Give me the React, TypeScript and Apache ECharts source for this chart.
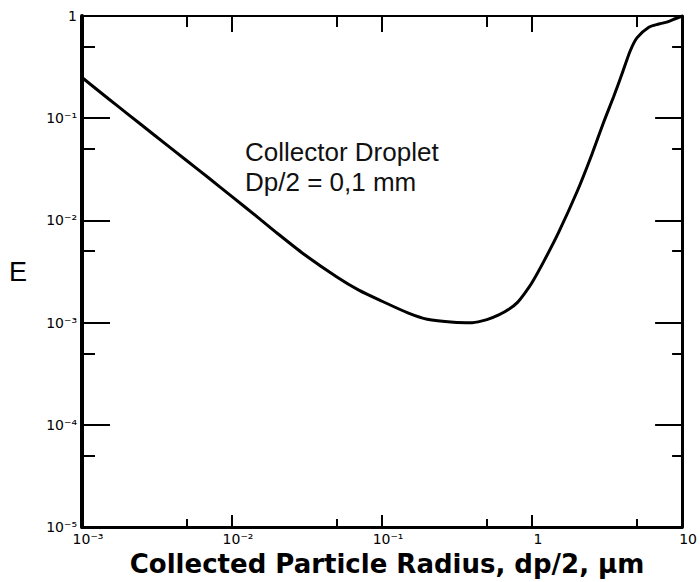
import React, { useEffect, useRef } from "react";
import * as echarts from "echarts";

// Collected particle radius dp/2 (µm)
const radius = [
  0.001, 0.0015, 0.002, 0.003, 0.005, 0.007, 0.01, 0.015, 0.02, 0.03, 0.05, 0.07,
  0.1, 0.15, 0.2, 0.3, 0.4, 0.5, 0.6, 0.7, 0.8, 0.9, 1.0, 1.2, 1.5, 2, 2.5, 3,
  3.5, 4, 4.5, 5, 6, 7, 8, 9, 10,
];
// Collection efficiency E
const efficiency = [
  0.25, 0.155, 0.111, 0.0693, 0.0384, 0.026, 0.0171, 0.0106, 0.0075, 0.0047,
  0.0028, 0.00208, 0.00162, 0.00124, 0.00108, 0.00101, 0.001, 0.00107, 0.00119,
  0.00135, 0.00158, 0.00197, 0.00247, 0.0040, 0.0076, 0.0193, 0.044, 0.0914,
  0.163, 0.278, 0.452, 0.61, 0.776, 0.834, 0.877, 0.94, 1.0,
];

const xMajor = [0.001, 0.01, 0.1, 1, 10];
const xMinor = [0.005, 0.05, 0.5, 5];
const xTickLabels = ["10⁻³", "10⁻²", "10⁻¹", "1", "10"];
const yMajor = [1e-5, 1e-4, 1e-3, 1e-2, 1e-1, 1];
const yMinor = [5e-5, 5e-4, 5e-3, 5e-2, 5e-1];
const yTickLabels = ["10⁻⁵", "10⁻⁴", "10⁻³", "10⁻²", "10⁻¹", "1"];

const xTitle = "Collected Particle Radius, dp/2, µm";
const yTitle = "E";
const noteLines = ["Collector Droplet", "Dp/2 = 0,1 mm"];

const FONT = "'Liberation Sans', Arial, sans-serif";
const TICKFONT = "'DejaVu Sans', sans-serif";

function xAxisDef(position: string, ticks: number[], len: number, lineW: number, labels: boolean, extra: any = {}) {
  return {
    type: "log",
    logBase: 10,
    min: 0.001,
    max: 10,
    position,
    axisLine: { show: lineW > 0, onZero: false, lineStyle: { color: "#000", width: lineW } },
    axisTick: { show: true, inside: true, length: len, customValues: ticks, lineStyle: { color: "#000", width: 2 } },
    axisLabel: labels
      ? {
          show: true,
          customValues: ticks,
          margin: 5,
          color: "#000",
          fontFamily: TICKFONT,
          fontSize: 14,
          padding: [0, 0, 0, 12],
          formatter: (v: number) => xTickLabels[Math.round(Math.log10(v)) + 3],
        }
      : { show: false },
    splitLine: { show: false },
    minorTick: { show: false },
    ...extra,
  };
}

function yAxisDef(position: string, ticks: number[], len: number, lineW: number, labels: boolean, extra: any = {}) {
  return {
    type: "log",
    logBase: 10,
    min: 1e-5,
    max: 1,
    position,
    axisLine: { show: lineW > 0, onZero: false, lineStyle: { color: "#000", width: lineW } },
    axisTick: { show: true, inside: true, length: len, customValues: ticks, lineStyle: { color: "#000", width: 2 } },
    axisLabel: labels
      ? {
          show: true,
          customValues: ticks,
          margin: 5,
          color: "#000",
          fontFamily: TICKFONT,
          fontSize: 14,
          formatter: (v: number) => yTickLabels[Math.round(Math.log10(v)) + 5],
        }
      : { show: false },
    splitLine: { show: false },
    minorTick: { show: false },
    ...extra,
  };
}

export default function App() {
  const ref = useRef<HTMLDivElement>(null);
  useEffect(() => {
    document.body.style.margin = "0";
    if (!ref.current) return;
    const chart = echarts.init(ref.current, undefined, { renderer: "svg" });
    chart.setOption({
      animation: false,
      backgroundColor: "#fff",
      grid: { left: 82, right: 13, top: 16, bottom: 54, containLabel: false },
      xAxis: [
        xAxisDef("bottom", xMajor, 12, 3, true, {
          name: xTitle,
          nameLocation: "middle",
          nameGap: 17,
          nameTextStyle: { color: "#000", fontFamily: "'DejaVu Sans', sans-serif", fontSize: 26, fontWeight: "bold", padding: [0, 0, 0, 10] },
        }),
        xAxisDef("top", xMajor, 16, 2, false),
        xAxisDef("bottom", xMinor, 8, 0, false),
        xAxisDef("top", xMinor, 11, 0, false),
      ],
      yAxis: [
        yAxisDef("left", yMajor, 28, 4, true, {
          name: yTitle,
          nameLocation: "middle",
          nameRotate: 0,
          nameGap: 55,
          nameTextStyle: { color: "#000", fontFamily: FONT, fontSize: 27, padding: [12, 0, 0, 0] },
        }),
        yAxisDef("left", yMinor, 13, 0, false),
        yAxisDef("right", yMajor, 27, 3, false),
        yAxisDef("right", yMinor, 10, 0, false),
      ],
      series: [
        {
          type: "line",
          xAxisIndex: 0,
          yAxisIndex: 0,
          data: radius.map((r, i) => [r, efficiency[i]]),
          showSymbol: false,
          smooth: 0.25,
          lineStyle: { color: "#000", width: 3 },
          z: 5,
        },
      ],
      graphic: [
        {
          type: "text",
          left: 245,
          top: 137,
          style: {
            text: noteLines.join("\n"),
            font: `26px ${FONT}`,
            fill: "#111",
            lineHeight: 30,
          },
        },
      ],
    });
    return () => chart.dispose();
  }, []);
  return <div ref={ref} style={{ width: 700, height: 582 }} />;
}
